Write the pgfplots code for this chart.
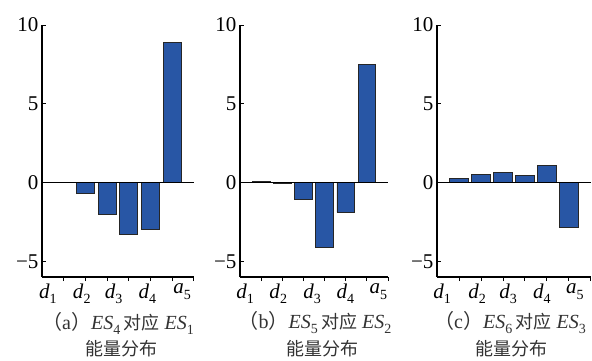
\documentclass[border=0pt]{standalone}
\usepackage{fontspec}
\setmainfont{Liberation Serif}
\newfontfamily\cjk{Noto Sans CJK SC}
\usepackage{pgfplots}
\pgfplotsset{compat=1.18}
\definecolor{barblue}{HTML}{2856A5}
\definecolor{captgray}{HTML}{333333}
\newcommand{\sub}[2]{\textit{#1}\raisebox{-0.28em}{\fontsize{14}{14}\selectfont #2}}
\newcommand{\lab}{\fontsize{21}{21}\selectfont}
\pgfplotsset{panel/.style={
  scale only axis, height=252pt,
  xmin=0, xmax=7, ymin=-6, ymax=10,
  axis x line*=bottom, axis y line*=left,
  axis line style={line width=1.3pt, -},
  ytick={-5,0,5,10}, yticklabels={−5,0,5,10},
  xtick={1,...,7}, xticklabels={},
  tick align=inside, major tick length=4pt,
  tick style={black, line width=1pt},
  yticklabel style={font=\fontsize{21}{21}\selectfont},
  extra x tick style={major tick length=0pt, tick style={draw=none},
     xticklabel style={font=\lab, yshift=-3pt}},
  extra x tick labels={\sub{d}{1},\sub{d}{2},\sub{d}{3},\sub{d}{4},\sub{a}{5}},
  ybar, bar width=0.83,
  clip=false,
}}
\newcommand{\capt}[3]{{\cjk （}#1{\cjk ）}\textit{ES}\raisebox{-0.25em}{\fontsize{14}{14}\selectfont #2}\,{\fontsize{18}{18}\selectfont\cjk 对应} \textit{ES}\raisebox{-0.25em}{\fontsize{14}{14}\selectfont #3}}
\begin{document}
\begin{tikzpicture}
\path[use as bounding box] (0,0) rectangle (592pt,360pt);
% panel a
\begin{axis}[panel, width=152pt, at={(42pt,83pt)}, anchor=south west,
  extra x ticks={0.27,1.83,3.3,4.85,6.45}]
\addplot[fill=barblue, draw=black!85, line width=0.8pt] coordinates {(1,0.02) (2,-0.7) (3,-2.0) (4,-3.27) (5,-2.95) (6,8.92)};
\draw[black, line width=0.9pt] (axis cs:0,0) -- (axis cs:7,0);
\end{axis}
% panel b
\begin{axis}[panel, width=148pt, at={(240pt,83pt)}, anchor=south west,
  extra x ticks={0.24,1.81,3.41,4.98,6.54}]
\addplot[fill=barblue, draw=black!85, line width=0.8pt] coordinates {(1,0.06) (2,-0.05) (3,-1.1) (4,-4.1) (5,-1.9) (6,7.5)};
\draw[black, line width=0.9pt] (axis cs:0,0) -- (axis cs:7,0);
\end{axis}
% panel c
\begin{axis}[panel, width=154pt, at={(437pt,83pt)}, anchor=south west,
  extra x ticks={0.23,1.82,3.23,4.77,6.27}]
\addplot[fill=barblue, draw=black!85, line width=0.8pt] coordinates {(1,0.26) (2,0.51) (3,0.64) (4,0.43) (5,1.09) (6,-2.87)};
\draw[black, line width=0.9pt] (axis cs:0,0) -- (axis cs:7,0);
\end{axis}
% captions
\begin{scope}[every node/.style={text=captgray, font=\fontsize{20}{20}\selectfont, inner sep=0pt}]
\node at (118pt,37pt) {\capt{a}{4}{1}};
\node at (121pt,11pt) {\fontsize{18}{18}\selectfont\cjk 能量分布};
\node at (315pt,37pt) {\capt{b}{5}{2}};
\node at (322pt,11pt) {\fontsize{18}{18}\selectfont\cjk 能量分布};
\node at (510pt,37pt) {\capt{c}{6}{3}};
\node at (511pt,11pt) {\fontsize{18}{18}\selectfont\cjk 能量分布};
\end{scope}
\end{tikzpicture}
\end{document}
